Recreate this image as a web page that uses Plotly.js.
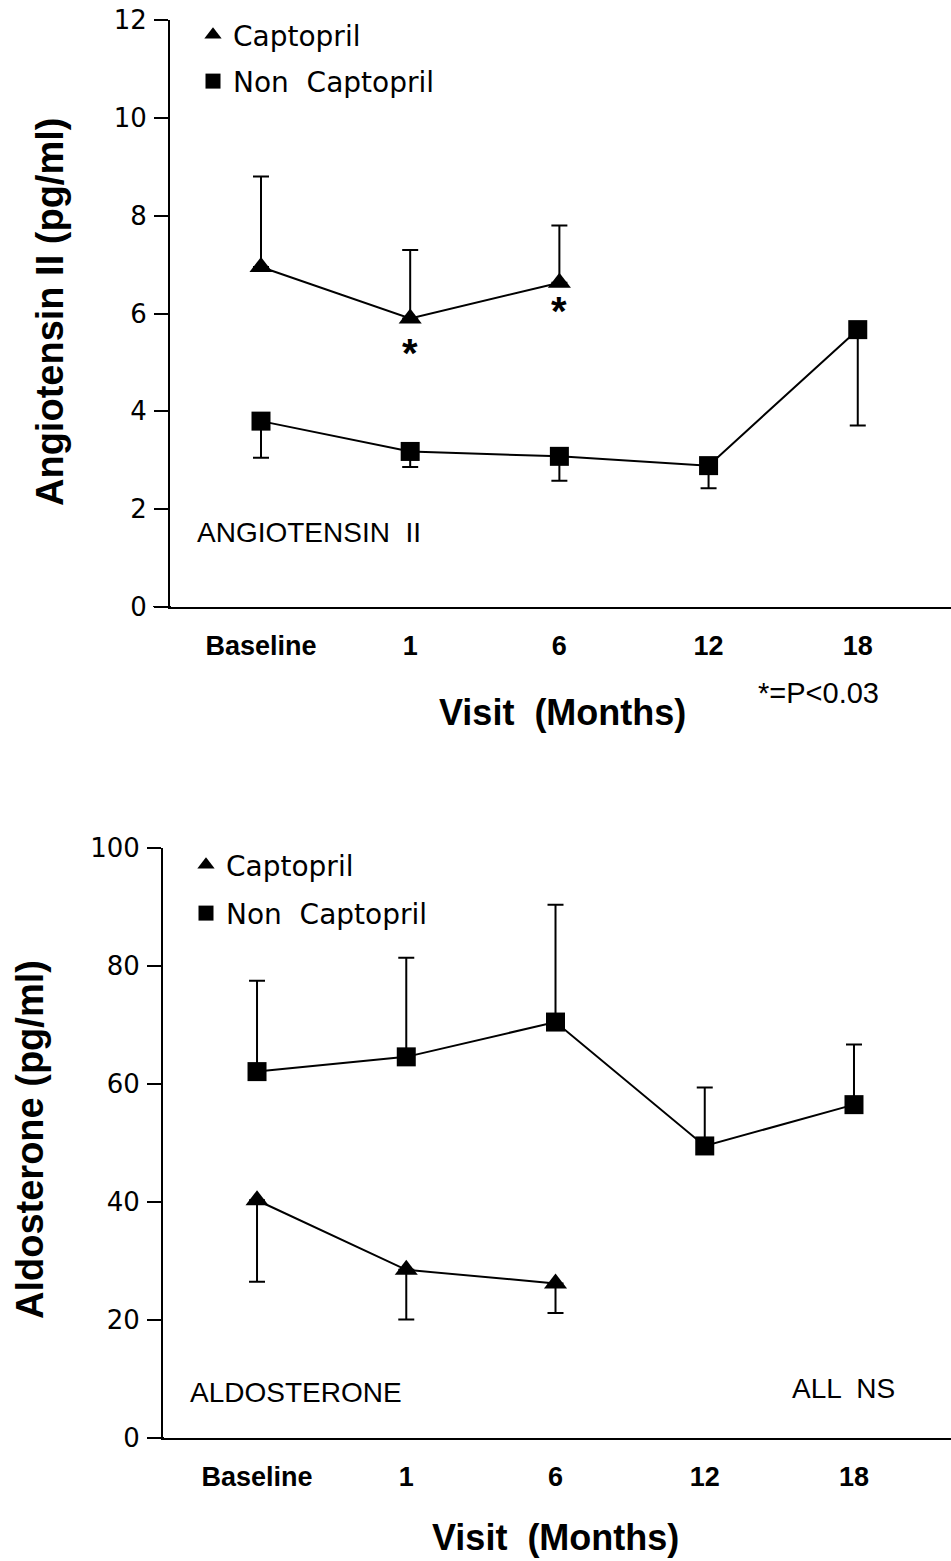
<!DOCTYPE html>
<html>
<head>
<meta charset="utf-8">
<script src="https://cdn.plot.ly/plotly-3.0.1.min.js"></script>
<style>html,body{margin:0;padding:0;background:#fff;}#chart{width:951px;height:1561px;}</style>
</head>
<body>
<div id="chart"></div>
<script>
// ---- data ----
const visits = ['Baseline', '1', '6', '12', '18'];
const captoVisits = ['Baseline', '1', '6'];

// Angiotensin II (pg/ml)
const angioCaptopril = [6.95, 5.9, 6.63];
const angioCaptoprilSE = [1.85, 1.4, 1.17];
const angioNonCaptopril = [3.8, 3.18, 3.08, 2.89, 5.67];
const angioNonCaptoprilSE = [0.75, 0.32, 0.5, 0.46, 1.96];

// Aldosterone (pg/ml)
const aldoCaptopril = [40.3, 28.5, 26.2];
const aldoCaptoprilSE = [13.8, 8.4, 5.0];
const aldoNonCaptopril = [62.1, 64.6, 70.5, 49.5, 56.5];
const aldoNonCaptoprilSE = [15.4, 16.8, 19.9, 9.9, 10.2];

// significance markers (Angiotensin II, Captopril)
const sigVisits = ['1', '6'];
const sigY = [5.2, 6.05];

// ---- styling ----
const BLK = '#000';
const tickFont = {family: 'DejaVu Sans, sans-serif', size: 26, color: BLK};
const catFont = {family: 'Liberation Sans, Arial, sans-serif', size: 27, color: BLK, weight: 'bold'};
const titleFont = {family: 'Liberation Sans, Arial, sans-serif', size: 36, color: BLK, weight: 'bold'};
const yTitleFont = {family: 'Liberation Sans, Arial, sans-serif', size: 38, color: BLK, weight: 'bold'};
const labelFont = {family: 'Liberation Sans, Arial, sans-serif', size: 28, color: BLK};
const legFont = {family: 'DejaVu Sans, sans-serif', size: 28, color: BLK};

function series(x, y, se, symbol, size, dir, xa, ya) {
  const err = {type: 'data', symmetric: false, color: BLK, thickness: 2, width: 8};
  if (dir === 'up') { err.array = se; err.arrayminus = se.map(() => 0); }
  else { err.arrayminus = se; err.array = se.map(() => 0); }
  return {
    x: x, y: y, xaxis: xa, yaxis: ya, type: 'scatter', mode: 'lines+markers',
    line: {color: BLK, width: 2},
    marker: {symbol: symbol, size: size, color: BLK},
    error_y: err, showlegend: false, hoverinfo: 'skip', cliponaxis: false
  };
}
function legendItem(name, symbol, size, leg, grp) {
  return {x: [null], y: [null], type: 'scatter', mode: 'markers', name: name,
    marker: {symbol: symbol, size: size, color: BLK}, legend: leg, legendgroup: grp, showlegend: true};
}

const traces = [
  series(visits, angioNonCaptopril, angioNonCaptoprilSE, 'square', 19, 'down', 'x', 'y'),
  series(captoVisits, angioCaptopril, angioCaptoprilSE, 'triangle-up', 20, 'up', 'x', 'y'),
  series(visits, aldoNonCaptopril, aldoNonCaptoprilSE, 'square', 19, 'up', 'x2', 'y2'),
  series(captoVisits, aldoCaptopril, aldoCaptoprilSE, 'triangle-up', 20, 'down', 'x2', 'y2'),
  legendItem('Captopril', 'triangle-up', 15, 'legend', 'a'),
  legendItem('Non  Captopril', 'square', 15, 'legend', 'b'),
  legendItem('Captopril', 'triangle-up', 15, 'legend2', 'a'),
  legendItem('Non  Captopril', 'square', 15, 'legend2', 'b')
];

const H = 1561, W = 951;
const py = v => (H - v) / H;
const px = v => v / W;

const xCommon = {type: 'category', categoryorder: 'array', categoryarray: visits,
  showline: true, linewidth: 2, linecolor: BLK, ticks: '', showgrid: false, zeroline: false,
  tickfont: catFont, ticklabelstandoff: 14, fixedrange: true};
const yCommon = {showline: true, linewidth: 2, linecolor: BLK, ticks: 'outside', ticklen: 14,
  tickwidth: 2, tickcolor: BLK, showgrid: false, zeroline: false, tickfont: tickFont,
  ticklabelstandoff: 2, fixedrange: true};

const annotations = [];
sigVisits.forEach((v, i) => annotations.push({x: visits.indexOf(v), y: sigY[i], xref: 'x', yref: 'y', text: '*',
  showarrow: false, font: {family: 'Liberation Sans, Arial, sans-serif', size: 40, color: BLK, weight: 'bold'}, xanchor: 'center', yanchor: 'middle'}));
annotations.push(
  {x: px(195), y: py(532), xref: 'paper', yref: 'paper', text: 'ANGIOTENSIN  II', showarrow: false, font: labelFont, xanchor: 'left', yanchor: 'middle'},
  {x: px(756), y: py(693), xref: 'paper', yref: 'paper', text: '*=P<0.03', showarrow: false, font: {family: 'Liberation Sans, Arial, sans-serif', size: 29, color: BLK}, xanchor: 'left', yanchor: 'middle'},
  {x: px(562), y: py(712), xref: 'paper', yref: 'paper', text: 'Visit  (Months)', showarrow: false, font: titleFont, xanchor: 'center', yanchor: 'middle'},
  {x: px(50), y: py(312), xref: 'paper', yref: 'paper', text: 'Angiotensin II (pg/ml)', showarrow: false, font: yTitleFont, textangle: -90, xanchor: 'center', yanchor: 'middle'},
  {x: px(188), y: py(1392), xref: 'paper', yref: 'paper', text: 'ALDOSTERONE', showarrow: false, font: labelFont, xanchor: 'left', yanchor: 'middle'},
  {x: px(790), y: py(1388), xref: 'paper', yref: 'paper', text: 'ALL  NS', showarrow: false, font: labelFont, xanchor: 'left', yanchor: 'middle'},
  {x: px(555), y: py(1537), xref: 'paper', yref: 'paper', text: 'Visit  (Months)', showarrow: false, font: titleFont, xanchor: 'center', yanchor: 'middle'},
  {x: px(30), y: py(1140), xref: 'paper', yref: 'paper', text: 'Aldosterone (pg/ml)', showarrow: false, font: yTitleFont, textangle: -90, xanchor: 'center', yanchor: 'middle'}
);

const layout = {
  width: W, height: H, margin: {l: 0, r: 0, t: 0, b: 0, pad: 0},
  paper_bgcolor: '#fff', plot_bgcolor: '#fff', showlegend: true,
  font: {family: 'Liberation Sans, Arial, sans-serif', color: BLK},
  xaxis: Object.assign({}, xCommon, {domain: [px(170), 1], range: [-0.61, 4.625], anchor: 'y'}),
  yaxis: Object.assign({}, yCommon, {domain: [py(607), py(20)], range: [0, 12], dtick: 2, anchor: 'x'}),
  xaxis2: Object.assign({}, xCommon, {domain: [px(163), 1], range: [-0.63, 4.65], anchor: 'y2'}),
  yaxis2: Object.assign({}, yCommon, {domain: [py(1438), py(848)], range: [0, 100], dtick: 20, anchor: 'x2'}),
  legend: {x: px(193), y: py(10), xanchor: 'left', yanchor: 'top', font: legFont, bgcolor: 'rgba(0,0,0,0)',
    tracegroupgap: 7, itemclick: false, itemdoubleclick: false},
  legend2: {x: px(186), y: py(840), xanchor: 'left', yanchor: 'top', font: legFont, bgcolor: 'rgba(0,0,0,0)',
    tracegroupgap: 9, itemclick: false, itemdoubleclick: false},
  annotations: annotations,
  shapes: [
    {type: 'line', xref: 'paper', yref: 'y', x0: px(153), x1: px(171), y0: 0, y1: 0, line: {color: BLK, width: 2}},
    {type: 'line', xref: 'paper', yref: 'y2', x0: px(148), x1: px(164), y0: 0, y1: 0, line: {color: BLK, width: 2}}
  ]
};

Plotly.newPlot('chart', traces, layout, {staticPlot: true, displayModeBar: false});
</script>
</body>
</html>
